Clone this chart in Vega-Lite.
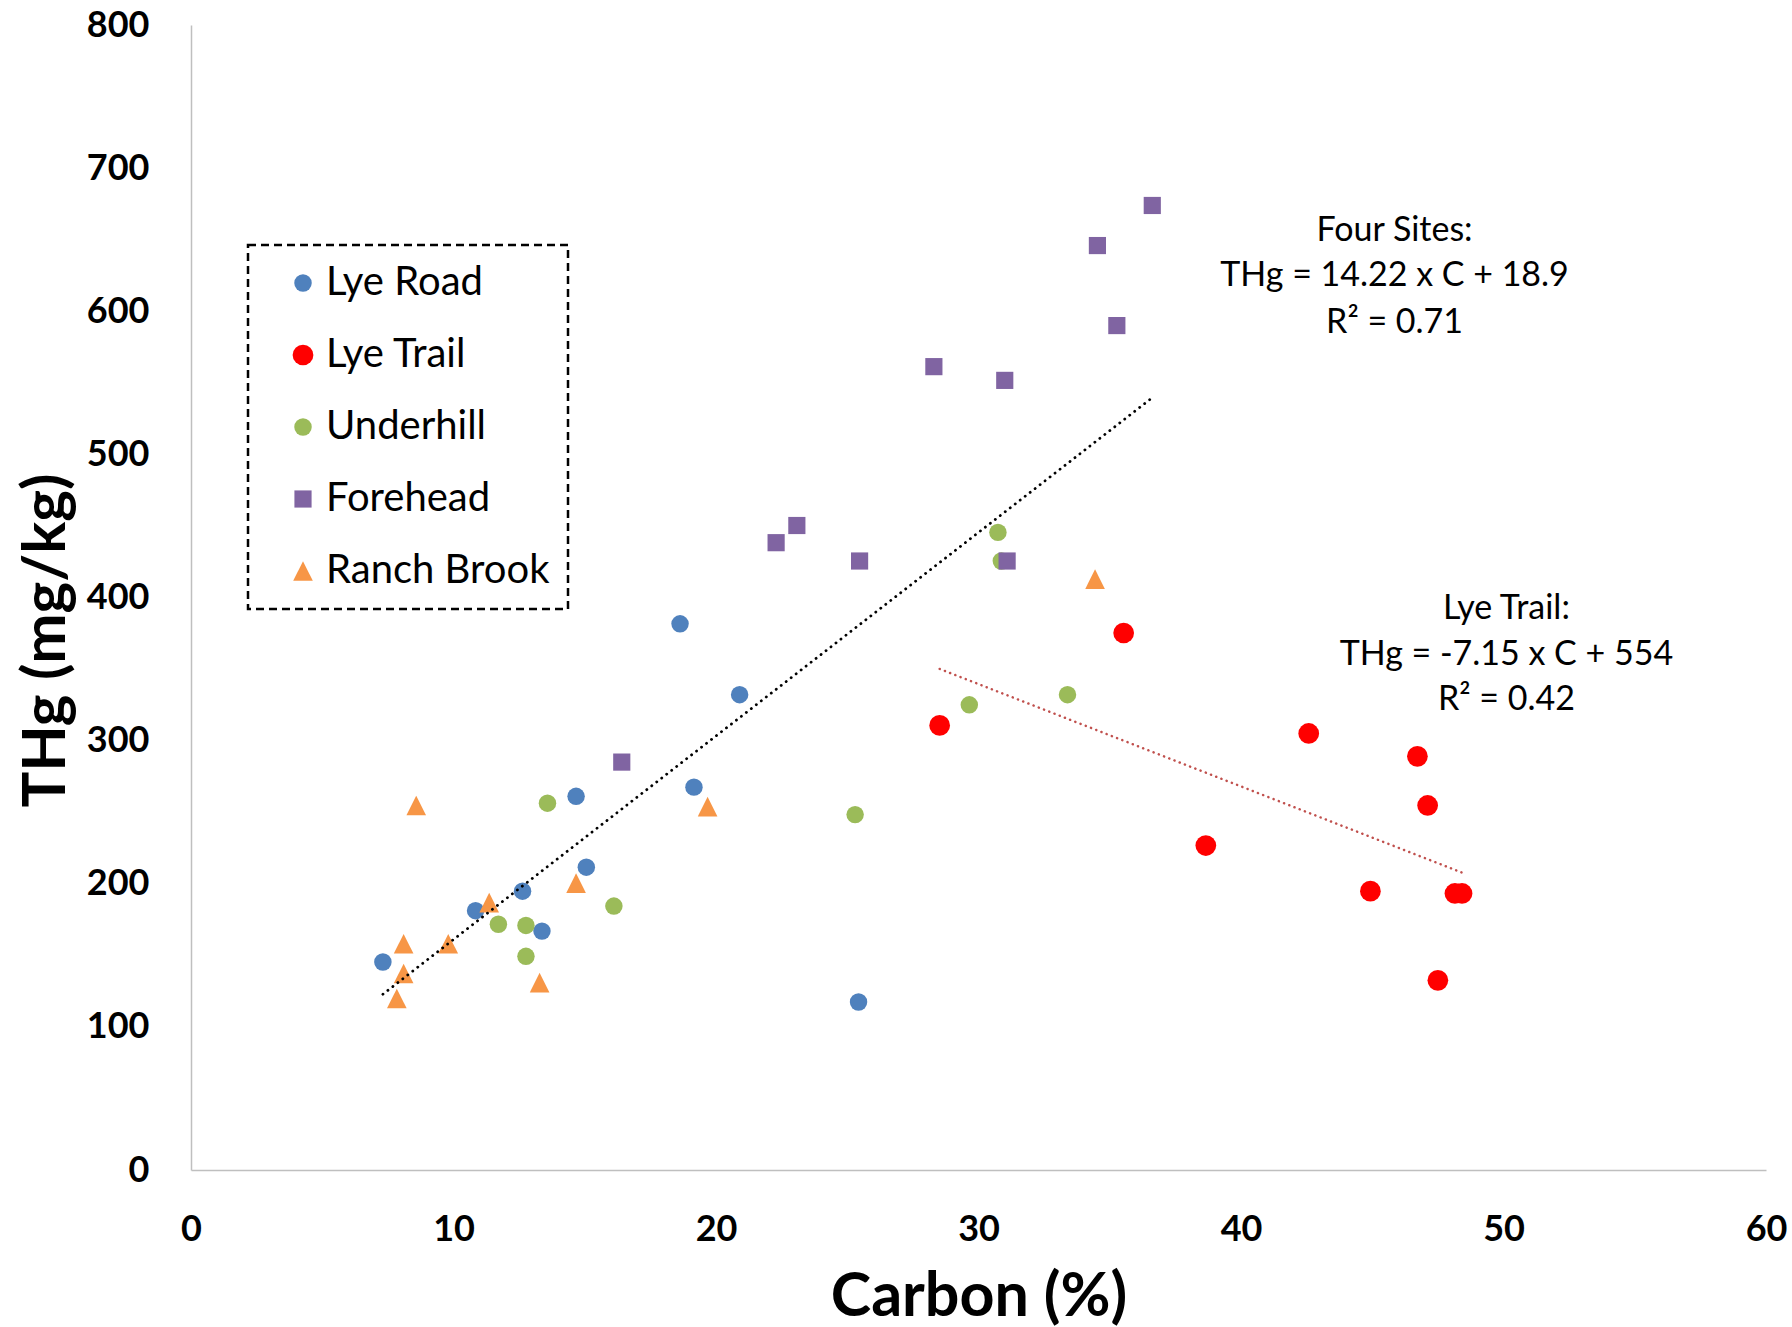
{
  "$schema": "https://vega.github.io/schema/vega-lite/v6.json",
  "width": 1575,
  "height": 1145,
  "autosize": "none",
  "padding": {"left": 191, "top": 25, "right": 26, "bottom": 157},
  "background": "white",
  "datasets": {
    "points": [
      {"site": "Lye Road", "c": 7.31, "thg": 145.3},
      {"site": "Lye Road", "c": 10.84, "thg": 181.2},
      {"site": "Lye Road", "c": 12.63, "thg": 194.8},
      {"site": "Lye Road", "c": 13.37, "thg": 166.9},
      {"site": "Lye Road", "c": 14.67, "thg": 261.1},
      {"site": "Lye Road", "c": 15.06, "thg": 211.6},
      {"site": "Lye Road", "c": 18.63, "thg": 381.6},
      {"site": "Lye Road", "c": 19.16, "thg": 267.5},
      {"site": "Lye Road", "c": 20.9, "thg": 332.1},
      {"site": "Lye Road", "c": 25.43, "thg": 117.4},
      {"site": "Lye Trail", "c": 28.52, "thg": 310.6},
      {"site": "Lye Trail", "c": 35.53, "thg": 375.2},
      {"site": "Lye Trail", "c": 38.66, "thg": 226.7},
      {"site": "Lye Trail", "c": 42.58, "thg": 305.0},
      {"site": "Lye Trail", "c": 44.93, "thg": 194.8},
      {"site": "Lye Trail", "c": 46.72, "thg": 289.0},
      {"site": "Lye Trail", "c": 47.11, "thg": 254.7},
      {"site": "Lye Trail", "c": 47.5, "thg": 132.5},
      {"site": "Lye Trail", "c": 48.15, "thg": 193.2},
      {"site": "Lye Trail", "c": 48.42, "thg": 193.2},
      {"site": "Underhill", "c": 13.58, "thg": 256.3},
      {"site": "Underhill", "c": 11.71, "thg": 171.7},
      {"site": "Underhill", "c": 12.76, "thg": 170.9},
      {"site": "Underhill", "c": 12.76, "thg": 149.3},
      {"site": "Underhill", "c": 16.11, "thg": 184.4},
      {"site": "Underhill", "c": 25.3, "thg": 248.3},
      {"site": "Underhill", "c": 29.65, "thg": 325.0},
      {"site": "Underhill", "c": 30.74, "thg": 445.5},
      {"site": "Underhill", "c": 30.87, "thg": 425.5},
      {"site": "Underhill", "c": 33.39, "thg": 332.1},
      {"site": "Forehead", "c": 16.41, "thg": 285.0},
      {"site": "Forehead", "c": 22.29, "thg": 438.3},
      {"site": "Forehead", "c": 23.08, "thg": 450.3},
      {"site": "Forehead", "c": 25.47, "thg": 425.5},
      {"site": "Forehead", "c": 28.3, "thg": 561.3},
      {"site": "Forehead", "c": 31.0, "thg": 551.7},
      {"site": "Forehead", "c": 31.09, "thg": 425.5},
      {"site": "Forehead", "c": 34.53, "thg": 645.9},
      {"site": "Forehead", "c": 35.27, "thg": 590.0},
      {"site": "Forehead", "c": 36.62, "thg": 673.9},
      {"site": "Ranch Brook", "c": 8.58, "thg": 254.7},
      {"site": "Ranch Brook", "c": 8.1, "thg": 158.1},
      {"site": "Ranch Brook", "c": 8.1, "thg": 137.3},
      {"site": "Ranch Brook", "c": 7.84, "thg": 119.8},
      {"site": "Ranch Brook", "c": 9.8, "thg": 158.1},
      {"site": "Ranch Brook", "c": 11.36, "thg": 186.8},
      {"site": "Ranch Brook", "c": 13.28, "thg": 130.9},
      {"site": "Ranch Brook", "c": 14.67, "thg": 200.4},
      {"site": "Ranch Brook", "c": 19.68, "thg": 253.9},
      {"site": "Ranch Brook", "c": 34.44, "thg": 412.8}
    ],
    "trends": [
      {"fit": "Four Sites", "c1": 7.31, "t1": 122.8, "c2": 36.62, "t2": 539.6},
      {"fit": "Lye Trail", "c1": 28.52, "t1": 350.1, "c2": 48.42, "t2": 207.8}
    ],
    "notes": [
      {"c": 45.85, "thg": 656.3, "label": "Four Sites:"},
      {"c": 45.85, "thg": 624.4, "label": "THg = 14.22 x C + 18.9"},
      {"c": 45.85, "thg": 591.6, "label": "R² = 0.71"},
      {"c": 50.11, "thg": 392.0, "label": "Lye Trail:"},
      {"c": 50.11, "thg": 360.1, "label": "THg = -7.15 x C + 554"},
      {"c": 50.11, "thg": 328.1, "label": "R² = 0.42"}
    ]
  },
  "layer": [
    {
      "data": {"name": "points"},
      "mark": {"type": "point", "filled": true, "opacity": 1},
      "encoding": {
        "x": {
          "field": "c", "type": "quantitative",
          "scale": {"domain": [0, 60], "nice": false, "zero": true},
          "axis": {"values": [0, 10, 20, 30, 40, 50, 60], "title": "Carbon (%)",
                   "labelPadding": 59, "labelBaseline": "middle", "labelFlush": false,
                   "titleY": 127, "titleBaseline": "middle", "titleFontSize": 61}
        },
        "y": {
          "field": "thg", "type": "quantitative",
          "scale": {"domain": [0, 800], "nice": false},
          "axis": {"values": [0, 100, 200, 300, 400, 500, 600, 700, 800], "title": "THg (mg/kg)",
                   "labelPadding": 42, "labelFlush": false,
                   "titleX": -145, "titleY": 615, "titleAngle": -90,
                   "titleBaseline": "middle", "titleAlign": "center", "titleFontSize": 60}
        },
        "color": {
          "field": "site", "type": "nominal",
          "scale": {"domain": ["Lye Road", "Lye Trail", "Underhill", "Forehead", "Ranch Brook"],
                    "range": ["#4F81BD", "#FF0000", "#9BBB59", "#8064A2", "#F79646"]},
          "legend": {"title": null}
        },
        "shape": {
          "field": "site", "type": "nominal",
          "scale": {"domain": ["Lye Road", "Lye Trail", "Underhill", "Forehead", "Ranch Brook"],
                    "range": ["circle", "circle", "circle", "square", "M-1,1L0,-1L1,1Z"]},
          "legend": {"title": null}
        },
        "size": {
          "field": "site", "type": "nominal",
          "scale": {"type": "ordinal",
                    "domain": ["Lye Road", "Lye Trail", "Underhill", "Forehead", "Ranch Brook"],
                    "range": [305, 430, 305, 295, 385]},
          "legend": {"title": null}
        }
      }
    },
    {
      "data": {"name": "trends"},
      "transform": [{"filter": "datum.fit === 'Four Sites'"}],
      "mark": {"type": "rule", "color": "#000000", "strokeWidth": 2.8, "strokeCap": "round", "strokeDash": [0.1, 6.2]},
      "encoding": {
        "x": {"field": "c1", "type": "quantitative"},
        "y": {"field": "t1", "type": "quantitative"},
        "x2": {"field": "c2"},
        "y2": {"field": "t2"}
      }
    },
    {
      "data": {"name": "trends"},
      "transform": [{"filter": "datum.fit === 'Lye Trail'"}],
      "mark": {"type": "rule", "color": "#C0504D", "strokeWidth": 2.5, "strokeCap": "round", "strokeDash": [0.1, 5.5]},
      "encoding": {
        "x": {"field": "c1", "type": "quantitative"},
        "y": {"field": "t1", "type": "quantitative"},
        "x2": {"field": "c2"},
        "y2": {"field": "t2"}
      }
    },
    {
      "data": {"name": "notes"},
      "mark": {"type": "text", "font": "Lato", "fontSize": 34, "color": "#000000", "align": "center", "baseline": "middle"},
      "encoding": {
        "x": {"field": "c", "type": "quantitative"},
        "y": {"field": "thg", "type": "quantitative"},
        "text": {"field": "label"}
      }
    }
  ],
  "config": {
    "view": {"stroke": null},
    "font": "Lato",
    "axis": {
      "grid": false, "ticks": false, "tickSize": 0,
      "domainColor": "#BFBFBF", "domainWidth": 1.5,
      "labelFont": "Lato", "labelFontSize": 36, "labelFontWeight": "bold", "labelColor": "#000000",
      "titleFont": "Lato", "titleFontWeight": "bold", "titleColor": "#000000"
    },
    "legend": {
      "orient": "none", "legendX": 57, "legendY": 220,
      "strokeColor": "#000000", "strokeDash": [8, 5], "strokeWidth": 2.5,
      "padding": 18, "symbolOffset": 17, "labelOffset": 3,
      "rowPadding": 32, "labelFont": "Lato", "labelFontSize": 40, "labelColor": "#000000",
      "labelLimit": 400, "symbolStrokeWidth": 0
    }
  }
}
